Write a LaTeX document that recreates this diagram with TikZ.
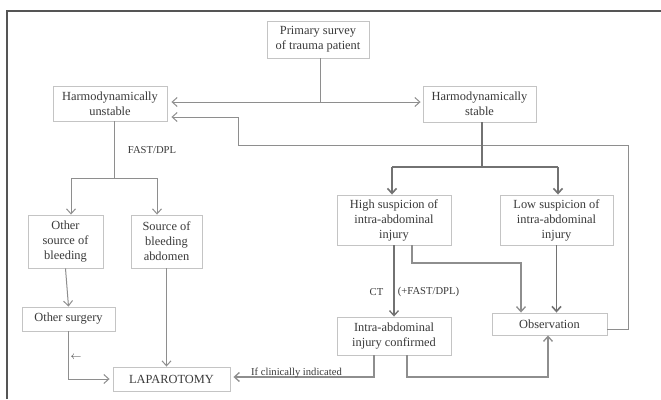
\documentclass[tikz,border=0pt]{standalone}
\usepackage{fontspec}
\setmainfont{Liberation Serif}
\usetikzlibrary{arrows.meta}
\definecolor{framec}{HTML}{555555}
\definecolor{boxc}{HTML}{C4C4C4}
\definecolor{linec}{HTML}{8E8E8E}
\definecolor{txtc}{HTML}{3A3A3A}
\tikzset{
  box/.style={draw=boxc, line width=0.9pt, align=center, inner sep=0pt, text=txtc,
    font=\fontsize{12.4}{15}\selectfont},
  conn/.style={draw=linec, line width=1pt},
  arr/.style={conn, -{Straight Barb[length=5pt,width=9pt]}},
  darr/.style={draw=linec!80!black, line width=1.6pt, -{Straight Barb[length=5pt,width=9pt]}},
  lbl/.style={text=txtc, font=\fontsize{10.6}{12}\selectfont, inner sep=0pt},
}
\begin{document}
\begin{tikzpicture}[x=1pt,y=-1pt]
\useasboundingbox (0,0) rectangle (661,399);
\fill[white] (0,0) rectangle (661,399);
\draw[framec, line width=1.3pt] (7,399) -- (7,11) -- (661,11);

% boxes
\node[box, minimum width=102pt, minimum height=37pt] (prim) at (318,39.5) {Primary survey\\of trauma patient};
\node[box, minimum width=114pt, minimum height=35pt] (unst) at (110,103.5) {Harmodynamically\\unstable};
\node[box, minimum width=113pt, minimum height=36pt] (stab) at (479.5,104) {Harmodynamically\\stable};
\node[box, minimum width=75pt, minimum height=53pt] (osrc) at (65.5,241.5) {Other\\source of\\bleeding};
\node[box, minimum width=71pt, minimum height=53pt] (sabd) at (166.5,241.5) {Source of\\bleeding\\abdomen};
\node[box, minimum width=93pt, minimum height=24pt] (osur) at (68.5,319) {Other surgery};
\node[box, minimum width=117pt, minimum height=24pt] (lap) at (171.5,379) {LAPAROTOMY};
\node[box, minimum width=114pt, minimum height=50pt] (high) at (394,220) {High suspicion of\\intra-abdominal\\injury};
\node[box, minimum width=113pt, minimum height=50pt] (low) at (556.5,220) {Low suspicion of\\intra-abdominal\\injury};
\node[box, minimum width=115pt, minimum height=22pt] (obs) at (549.5,324) {Observation};
\node[box, minimum width=114pt, minimum height=38pt] (intra) at (394,336) {Intra-abdominal\\injury confirmed};

% coordinates
\coordinate (pj) at (320,102);
\coordinate (fbA) at (628,329);
\coordinate (fbB) at (628,145);
\coordinate (fbC) at (238,145);
\coordinate (fbD) at (238,117);
\coordinate (sL) at (392,167);
\coordinate (sR) at (558,167);
\coordinate (sM) at (482,167);
\coordinate (uL) at (71,178);
\coordinate (uR) at (157,178);
\coordinate (uM) at (114,178);
\coordinate (h0) at (412,245);
\coordinate (h1) at (412,263);
\coordinate (h2) at (521,263);
\coordinate (i0) at (374,377);
\coordinate (i1) at (407,377);
\coordinate (i2) at (548,377);

% primary split
\draw[conn] (prim.south -| pj) -- (pj);
\draw[arr, shorten >=4pt] (pj) -- (unst.east |- pj);
\draw[arr, shorten >=2pt] (pj) -- (stab.west |- pj);

% feedback from observation
\draw[arr, shorten >=4pt] (obs.east |- fbA) -- (fbA) -- (fbB) -- (fbC) -- (fbD) -- (unst.east |- fbD);

% stable split
\draw[conn, draw=linec!80!black, line width=1.3pt] (stab.south -| sM) -- (sM);
\draw[conn, draw=linec!80!black, line width=1.3pt] (sL) -- (sR);
\draw[darr] (sL) -- (sL |- high.north);
\draw[darr] (sR) -- (sR |- low.north);

% unstable split
\draw[conn] (unst.south -| uM) -- (uM);
\draw[conn] (uL) -- (uR);
\draw[arr] (uL) -- (uL |- osrc.north);
\draw[arr] (uR) -- (uR |- sabd.north);
\node[lbl] (fd) at (152,150) {FAST/DPL};

% left column
\draw[arr] (osrc.south) -- (osur.north);
\draw[arr, shorten >=3pt] (osur.south) |- (lap.west);
\node[lbl] (la) at (76,357) {$\leftarrow$};
\draw[arr] (sabd.south) -- (sabd.south |- lap.north);

% high suspicion
\draw[darr, line width=1.3pt] (high.south) -- (intra.north);
\node[lbl] (ct) at (376.5,292) {CT};
\node[lbl] (fd2) at (428.5,292) {(+FAST/DPL)};
\draw[arr, line width=1.3pt] (high.south -| h0) -- (h1) -- (h2) -- (h2 |- obs.north);
\draw[darr] (low.south) -- (low.south |- obs.north);

% intra
\draw[arr, line width=1.3pt] (intra.south -| i1) -- (i1) -- (i2) -- (i2 |- obs.south);
\draw[arr, line width=1.3pt, shorten >=3pt] (intra.south -| i0) -- (i0) -- (lap.east |- i0);
\node[lbl, anchor=base] (ci) at (296.5,375) {If clinically indicated};
\end{tikzpicture}
\end{document}
